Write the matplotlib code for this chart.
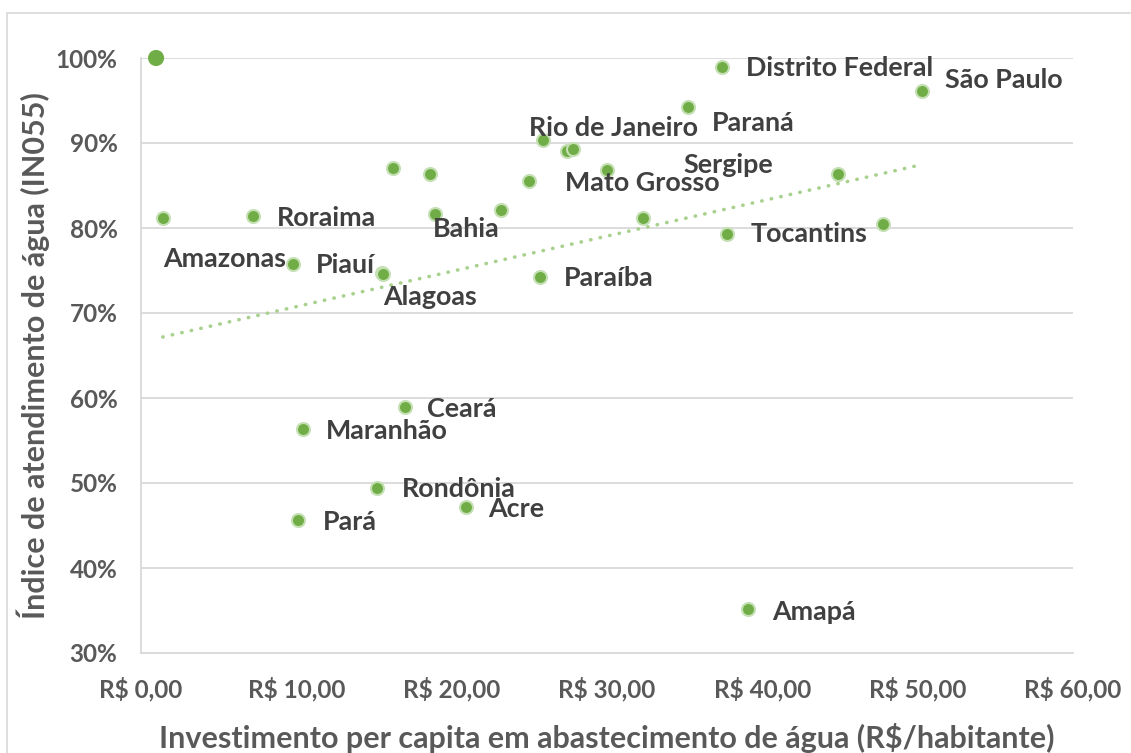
import numpy as np
import matplotlib as mpl
import matplotlib.pyplot as plt
from matplotlib.patches import Rectangle
from matplotlib.ticker import FuncFormatter

plt.rc('font', family='Lato', weight='bold')

# Investimento per capita (R$/hab) e índice de atendimento (%)
ESTADOS = ['', 'Roraima', 'Amazonas', 'Piauí', 'Alagoas', 'Bahia', 'Ceará',
           'Maranhão', 'Rondônia', 'Acre', 'Pará', 'Paraíba', 'Rio de Janeiro',
           'Mato Grosso', 'Paraná', 'Distrito Federal', 'Sergipe', 'Tocantins',
           'São Paulo', 'Amapá', '', '', '', '', '', '', '', '']
INVEST = [1.4, 7.2, 9.8, 15.5, 15.6, 18.9, 17.0,
          10.4, 15.2, 20.9, 10.1, 25.7, 25.9,
          30.0, 35.2, 37.4, 44.9, 37.7,
          50.3, 39.1, 16.2, 18.6, 23.2, 25.0, 27.4, 27.8, 32.3, 47.8]
ATEND = [81.2, 81.4, 75.8, 74.7, 74.6, 81.6, 58.9,
         56.4, 49.4, 47.2, 45.7, 74.2, 90.4,
         86.8, 94.2, 98.9, 86.4, 79.3,
         96.1, 35.2, 87.1, 86.4, 82.1, 85.5, 89.1, 89.3, 81.2, 80.5]

# ponto destacado
DESTAQUE_X = [0.97]
DESTAQUE_Y = [100.0]

# posição dos rótulos (deslocamento em pixels, alinhamento)
LABEL_OFFSETS = {
    'Roraima': (24, -2, 'left'),
    'Amazonas': (-7, 5, 'right'),
    'Piauí': (-7, 8, 'right'),
    'Alagoas': (0, -23, 'left'),
    'Bahia': (-2, -15, 'left'),
    'Ceará': (22, -2, 'left'),
    'Maranhão': (23, -2, 'left'),
    'Rondônia': (25, -1, 'left'),
    'Acre': (23, -2, 'left'),
    'Pará': (25, -2, 'left'),
    'Paraíba': (24, -1, 'left'),
    'Rio de Janeiro': (-14, 12, 'left'),
    'Mato Grosso': (-42, -13, 'left'),
    'Paraná': (24, -16, 'left'),
    'Distrito Federal': (24, -1, 'left'),
    'Sergipe': (-65, 9, 'right'),
    'Tocantins': (24, 0, 'left'),
    'São Paulo': (23, 11, 'left'),
    'Amapá': (24, -3, 'left'),
}

GREEN = '#70AD47'
GRID = '#D9D9D9'
TICK_COLOR = '#595959'
LABEL_COLOR = '#404040'

fig = plt.figure(figsize=(11.31, 7.53), dpi=100)
ax = fig.add_axes([141 / 1131, 1 - 653 / 753, 932 / 1131, 595 / 753])

# moldura do gráfico (cortada à direita e embaixo)
fig.patches.append(Rectangle((7 / 1131, -0.1), 1.2, 1 - 13 / 753 + 0.1,
                             transform=fig.transFigure, fill=False,
                             edgecolor=GRID, linewidth=1.2))

x = np.array(INVEST)
y = np.array(ATEND)

# linha de tendência linear
coef = np.polyfit(x, y, 1)
xt = np.array([x.min(), x.max()])
ax.plot(xt, np.polyval(coef, xt), linestyle=(0, (0.1, 2.6)), dash_capstyle='round',
        color='#A9D18E', linewidth=2.6, zorder=2)

ax.scatter(x, y, s=88, color=GREEN, edgecolors='#C5E0B4', linewidths=1.5, zorder=3)
ax.scatter(DESTAQUE_X, DESTAQUE_Y, s=135, color=GREEN, edgecolors='none', zorder=3,
           clip_on=False)

for nome, xi, yi in zip(ESTADOS, INVEST, ATEND):
    if not nome:
        continue
    dx, dy, ha = LABEL_OFFSETS[nome]
    ax.annotate(nome, (xi, yi), xytext=(dx, dy), textcoords='offset pixels',
                ha=ha, va='center', fontsize=19.4, color=LABEL_COLOR, zorder=4)

ax.set_xlim(0, 60)
ax.set_ylim(30, 100)
ax.set_xticks(np.arange(0, 61, 10))
ax.set_yticks(np.arange(30, 101, 10))
ax.xaxis.set_major_formatter(FuncFormatter(lambda v, p: f'R$ {v:.2f}'.replace('.', ',')))
ax.yaxis.set_major_formatter(FuncFormatter(lambda v, p: f'{v:.0f}%'))
ax.tick_params(axis='both', length=0, labelsize=17.5, labelcolor=TICK_COLOR)
ax.tick_params(axis='y', pad=17)
ax.tick_params(axis='x', pad=17)

ax.grid(axis='y', color=GRID, linewidth=1.3, zorder=0)
ax.set_axisbelow(True)
for side in ['top', 'right']:
    ax.spines[side].set_visible(False)
for side in ['left', 'bottom']:
    ax.spines[side].set_color(GRID)
    ax.spines[side].set_linewidth(1.3)

ax.set_xlabel('Investimento per capita em abastecimento de água (R$/habitante)',
              fontsize=22, fontweight='bold', color=TICK_COLOR, labelpad=16)
ax.set_ylabel('Índice de atendimento de água (IN055)', fontsize=22, fontweight='bold',
              color=TICK_COLOR, labelpad=4)

fig.savefig('out.png', dpi=100)
